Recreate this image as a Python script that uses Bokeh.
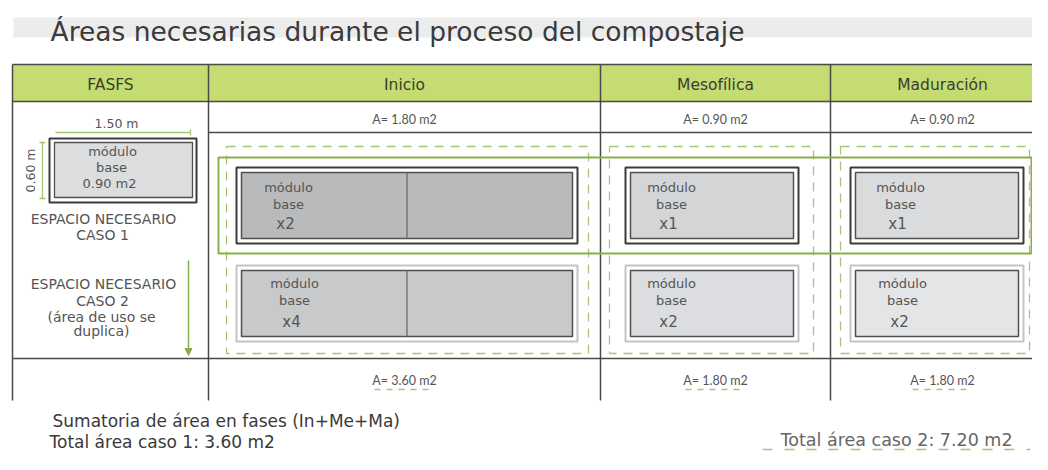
from bokeh.plotting import figure
from bokeh.models import Range1d, Label, Arrow, NormalHead
from bokeh.core.properties import value
from bokeh.embed import file_html
from bokeh.resources import INLINE

# ---------------- data ----------------
title = "Áreas necesarias durante el proceso del compostaje"
first_header = "FASFS"
phases = ["Inicio", "Mesofílica", "Maduración"]
area_caso1 = [1.80, 0.90, 0.90]      # m2 per phase, case 1
area_caso2 = [3.60, 1.80, 1.80]      # m2 per phase, case 2
modulos_caso1 = [2, 1, 1]            # number of base modules, case 1
modulos_caso2 = [4, 2, 2]            # number of base modules, case 2
base_largo = "1.50 m"
base_ancho = "0.60 m"
base_area = "0.90 m2"
caso1_lines = ["ESPACIO NECESARIO", "CASO 1"]
caso2_lines = ["ESPACIO NECESARIO", "CASO 2", "(área de uso se", "duplica)"]
sum_label = "Sumatoria de área en fases (In+Me+Ma)"

total1 = sum(area_caso1)
total2 = sum(area_caso2)

# ---------------- styles / layout ----------------
BIG = value("DejaVu Sans")
SMALL = value("Lato")
GREEN_HDR = "#c4dc72"
GREEN_LINE = "#86b04a"
GREEN_DASH = "#a3c872"
LINE = "#4a4a4a"
TXT = "#3a3a3a"
TXT2 = "#555555"

col_x = [12, 208, 600, 830, 1048]
y_top, y_hdr, y_area, y_bot, y_end = 64, 101, 132, 358, 400

p = figure(width=1032, height=454, x_range=Range1d(0, 1032), y_range=Range1d(454, 0),
           output_backend="svg", toolbar_location=None,
           x_axis_location=None, y_axis_location=None,
           min_border=0, outline_line_color=None, background_fill_color="white")
p.grid.visible = False

# title band + title
p.quad(left=[13], right=[1048], top=[17], bottom=[37], fill_color="#ececec", line_color=None)
p.text(x=[50], y=[31], text=[title], text_font=BIG, text_font_size="26.5px",
       text_color=TXT, text_baseline="middle", text_align="left")

# header band
p.quad(left=[col_x[0]], right=[col_x[-1]], top=[y_top], bottom=[y_hdr],
       fill_color=GREEN_HDR, line_color=None)

# table lines
hx0 = [col_x[0], col_x[0], col_x[1], col_x[0]]
hx1 = [col_x[-1], col_x[-1], col_x[-1], col_x[-1]]
hy = [y_top, y_hdr, y_area, y_bot]
p.segment(x0=hx0, y0=hy, x1=hx1, y1=hy, line_color=LINE, line_width=1.5)
vx = col_x[:4]
p.segment(x0=vx, y0=[y_top] * 4, x1=vx, y1=[y_end] * 4, line_color=LINE, line_width=1.5)

# header texts
centers = [(col_x[i] + col_x[i + 1]) / 2 for i in range(4)]
centers[3] = 942
p.text(x=centers, y=[84] * 4, text=[first_header] + phases, text_font=BIG,
       text_font_size="15.5px", text_color="#3c3c30", text_baseline="middle", text_align="center")

# area texts (case 1 row, case 2 row)
p.text(x=centers[1:], y=[119] * 3, text=[f"A= {a:.2f} m2" for a in area_caso1],
       text_font=SMALL, text_font_size="12.5px", text_color=TXT2,
       text_baseline="middle", text_align="center")
p.text(x=centers[1:], y=[380] * 3, text=[f"A= {a:.2f} m2" for a in area_caso2],
       text_font=SMALL, text_font_size="12.5px", text_color=TXT2,
       text_baseline="middle", text_align="center")
p.segment(x0=[c - 30 for c in centers[1:]], y0=[389] * 3, x1=[c + 30 for c in centers[1:]],
          y1=[389] * 3, line_color=GREEN_DASH, line_width=1.5, line_dash="6 6")

# dashed green areas per phase
dash_l = [226, 609, 840]
dash_r = [588, 813, 1029]
p.quad(left=dash_l, right=dash_r, top=[146] * 3, bottom=[353] * 3, fill_color=None,
       line_color=GREEN_DASH, line_width=1.3, line_dash="9 7")

# solid green case-1 band
p.quad(left=[218], right=[1031], top=[157], bottom=[253], fill_color=None,
       line_color=GREEN_LINE, line_width=2)

# modules
mod_l = [236, 625, 850]
cell_w = 168


def draw_modules(y0, counts, cells, fills, outer_col, offs, dy):
    h = 76
    for i in range(3):
        x0 = mod_l[i]
        w = cells[i] * cell_w + 5
        p.quad(left=[x0], right=[x0 + w], top=[y0], bottom=[y0 + h], fill_color="white",
               line_color=outer_col, line_width=2)
        p.quad(left=[x0 + 5], right=[x0 + w - 5], top=[y0 + 5], bottom=[y0 + h - 5],
               fill_color=fills[i], line_color="#505050", line_width=1.5)
        if cells[i] > 1:
            for k in range(1, cells[i]):
                xd = x0 + 5 + k * (w - 10) / cells[i]
                p.segment(x0=[xd], y0=[y0 + 5], x1=[xd], y1=[y0 + h - 5],
                          line_color="#6a6a6a", line_width=1.3)
        cx = x0 + offs[i]
        p.text(x=[cx, cx], y=[y0 + dy[0], y0 + dy[1]], text=["módulo", "base"],
               text_font=BIG, text_font_size="13px", text_color=TXT2,
               text_baseline="middle", text_align="center")
        p.text(x=[cx - 3], y=[y0 + dy[2]], text=[f"x{counts[i]}"],
               text_font=BIG, text_font_size="15px", text_color=TXT2,
               text_baseline="middle", text_align="center")


draw_modules(167, modulos_caso1, modulos_caso1, ["#b9babc", "#d4d5d7", "#dadbdd"],
             "#3a3a3a", [52, 46, 50], [20, 37, 56])
draw_modules(265, modulos_caso2, modulos_caso1, ["#c8c9cb", "#dcdde0", "#e4e5e6"],
             "#c4c4c4", [58, 46, 52], [18, 35, 56])

# left column: base module
p.quad(left=[49], right=[196], top=[138], bottom=[202], fill_color="white",
       line_color="#3a3a3a", line_width=2)
p.quad(left=[54], right=[192], top=[142], bottom=[197], fill_color="#dcdddf",
       line_color="#505050", line_width=1.3)
p.text(x=[112, 111, 109], y=[151, 167, 183], text=["módulo", "base", base_area],
       text_font=BIG, text_font_size="13px", text_color=TXT2,
       text_baseline="middle", text_align="center")
p.text(x=[116], y=[123], text=[base_largo], text_font=BIG, text_font_size="12.5px",
       text_color=TXT2, text_baseline="middle", text_align="center")
p.segment(x0=[55, 190], y0=[132, 129], x1=[190, 190], y1=[132, 135],
          line_color=GREEN_DASH, line_width=1.3)
p.segment(x0=[42, 39, 39], y0=[142, 142, 198], x1=[42, 45, 45], y1=[198, 142, 198],
          line_color=GREEN_DASH, line_width=1.3)
p.add_layout(Label(x=30, y=170, text=base_ancho, angle=90, angle_units="deg",
                   text_font="DejaVu Sans", text_font_size="12.5px", text_color=TXT2,
                   text_align="center", text_baseline="middle"))

p.text(x=[103, 102], y=[218, 234], text=caso1_lines, text_font=BIG, text_font_size="14px",
       text_color=TXT2, text_baseline="middle", text_align="center")
p.text(x=[103, 102, 101, 101], y=[283, 300, 316, 330], text=caso2_lines, text_font=BIG,
       text_font_size="14px", text_color=TXT2, text_baseline="middle", text_align="center")
p.add_layout(Arrow(end=NormalHead(size=7, fill_color=GREEN_LINE, line_color=GREEN_LINE),
                   x_start=188, y_start=260, x_end=188, y_end=355,
                   line_color=GREEN_LINE, line_width=1.5))

# bottom summary
p.text(x=[52, 49], y=[420, 441], text=[sum_label, f"Total área caso 1: {total1:.2f} m2"],
       text_font=BIG, text_font_size="17px", text_color=TXT,
       text_baseline="middle", text_align="left")
p.text(x=[780], y=[439], text=[f"Total área caso 2: {total2:.2f} m2"],
       text_font=BIG, text_font_size="17.5px", text_color="#666666",
       text_baseline="middle", text_align="left")
p.segment(x0=[762], y0=[449], x1=[1030], y1=[449], line_color=GREEN_DASH,
          line_width=1.5, line_dash="10 12")

open("out.html", "w").write(file_html(p, INLINE))
